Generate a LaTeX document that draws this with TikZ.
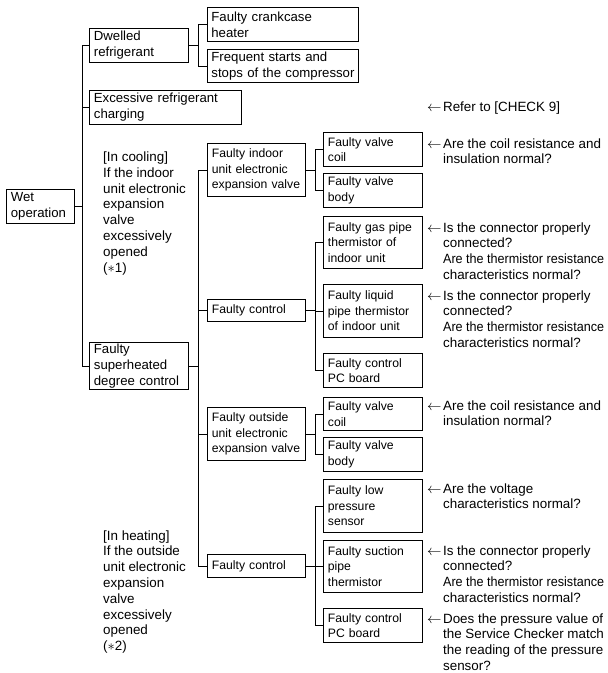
\documentclass[tikz,border=0pt]{standalone}
\usepackage{fontspec}
\setmainfont{Liberation Sans}
\newcommand{\lines}[1]{\begin{tabular}[t]{@{}l@{}}#1\end{tabular}}
\newcommand{\squeeze}[1]{\scalebox{0.94}[1]{#1}}
\tikzset{
  box/.style={draw, line width=0.8pt, anchor=north west, align=left,
              inner xsep=4.5pt, inner ysep=1pt},
  big/.style={font=\fontsize{13.2}{16}\selectfont},
  small/.style={font=\fontsize{12.2}{15.5}\selectfont},
  link/.style={line width=0.8pt},
  hint/.style={anchor=base west, inner sep=0pt,
               font=\fontsize{13.4}{15.8}\selectfont},
}

\begin{document}
\begin{tikzpicture}[x=1pt,y=-1pt,line cap=butt,line join=miter]
  \useasboundingbox (0,0) rectangle (608,673);

  % root and first level
  \node[box,big,text width=59,minimum height=34] (wet) at (6,189) {Wet\\operation};
  \node[box,big,text width=90,minimum height=34] (dwell) at (89,28) {Dwelled\\refrigerant};
  \node[box,big,text width=143,minimum height=34] (excess) at (89,90) {Excessive refrigerant\\charging};
  \node[box,big,text width=90,minimum height=47] (superh) at (89,342) {Faulty\\superheated\\degree control};

  % dwelled refrigerant causes
  \node[box,big,text width=143,inner xsep=4pt,minimum height=34] (crank) at (207,7) {Faulty crankcase\\heater};
  \node[box,big,text width=143,inner xsep=4pt,minimum height=33] (starts) at (207,49) {Frequent starts and\\\mbox{stops of the compressor}};

  % superheated degree control causes
  \node[box,small,text width=89,minimum height=53] (indoor) at (207,143) {Faulty indoor\\unit electronic\\expansion valve};
  \node[box,small,text width=89,minimum height=22] (ctrlA) at (207,299) {Faulty control};
  \node[box,small,text width=89,minimum height=53] (outside) at (207,407) {Faulty outside\\unit electronic\\expansion valve};
  \node[box,small,text width=89,minimum height=23] (ctrlB) at (207,554) {Faulty control};

  % cooling side details
  \node[box,small,text width=90,minimum height=34] (coilA) at (323,132) {Faulty valve\\coil};
  \node[box,small,text width=90,minimum height=34] (bodyA) at (323,173) {Faulty valve\\body};
  \node[box,small,text width=90,minimum height=52] (gasA) at (323,216) {Faulty gas pipe\\thermistor of\\indoor unit};
  \node[box,small,text width=90,minimum height=53] (liqA) at (323,284) {Faulty liquid\\pipe thermistor\\of indoor unit};
  \node[box,small,text width=90,minimum height=34] (pcA) at (323,353) {Faulty control\\PC board};

  % heating side details
  \node[box,small,text width=90,minimum height=33] (coilB) at (323,397) {Faulty valve\\coil};
  \node[box,small,text width=90,minimum height=34] (bodyB) at (323,437) {Faulty valve\\body};
  \node[box,small,text width=90,minimum height=53] (lowB) at (323,479) {Faulty low\\pressure\\sensor};
  \node[box,small,text width=90,minimum height=52] (sucB) at (323,540) {Faulty suction\\pipe\\thermistor};
  \node[box,small,text width=90,minimum height=34] (pcB) at (323,608) {Faulty control\\PC board};

  % tree connectors
  \foreach \k in {dwell,excess,superh}
    \draw[link] (wet.east) -- ++(8,0) |- (\k.west);
  \foreach \k in {crank,starts}
    \draw[link] (dwell.east) -- ++(10,0) |- (\k.west);
  \foreach \k in {indoor,ctrlA,outside,ctrlB}
    \draw[link] (superh.east) -- ++(10,0) |- (\k.west);
  \foreach \k in {coilA,bodyA}
    \draw[link] (indoor.east) -- ++(10,0) |- (\k.west);
  \foreach \k in {gasA,liqA,pcA}
    \draw[link] (ctrlA.east) -- ++(10,0) |- (\k.west);
  \foreach \k in {coilB,bodyB}
    \draw[link] (outside.east) -- ++(10,0) |- (\k.west);
  \foreach \k in {lowB,sucB,pcB}
    \draw[link] (ctrlB.east) -- ++(10,0) |- (\k.west);

  % operating conditions
  \node[hint] (cool) at (103,161.5) {\lines{[In cooling]\\If the indoor\\unit electronic\\expansion\\valve\\excessively\\opened\\($\ast$1)}};
  \node[hint] (heat) at (103,540) {\lines{[In heating]\\If the outside\\unit electronic\\expansion\\valve\\excessively\\opened\\($\ast$2)}};

  % check hints
  \node[hint] (nRef) at (427,111.5) {$\leftarrow$\hspace{1.5pt}Refer to [CHECK 9]};
  \node[hint] (nCoilA) at (427,148) {$\leftarrow$\hspace{1.5pt}\lines{Are the coil resistance and\\insulation normal?}};
  \node[hint] (nGasA) at (427,232) {$\leftarrow$\hspace{1.5pt}\lines{Is the connector properly\\connected?\\\squeeze{Are the thermistor resistance}\\characteristics normal?}};
  \node[hint] (nLiqA) at (427,300) {$\leftarrow$\hspace{1.5pt}\lines{Is the connector properly\\connected?\\\squeeze{Are the thermistor resistance}\\characteristics normal?}};
  \node[hint] (nCoilB) at (427,410) {$\leftarrow$\hspace{1.5pt}\lines{Are the coil resistance and\\insulation normal?}};
  \node[hint] (nLowB) at (427,493) {$\leftarrow$\hspace{1.5pt}\lines{Are the voltage\\characteristics normal?}};
  \node[hint] (nSucB) at (427,555) {$\leftarrow$\hspace{1.5pt}\lines{Is the connector properly\\connected?\\\squeeze{Are the thermistor resistance}\\characteristics normal?}};
  \node[hint] (nPcB) at (427,623) {$\leftarrow$\hspace{1.5pt}\lines{Does the pressure value of\\the Service Checker match\\the reading of the pressure\\sensor?}};

\end{tikzpicture}
\end{document}
